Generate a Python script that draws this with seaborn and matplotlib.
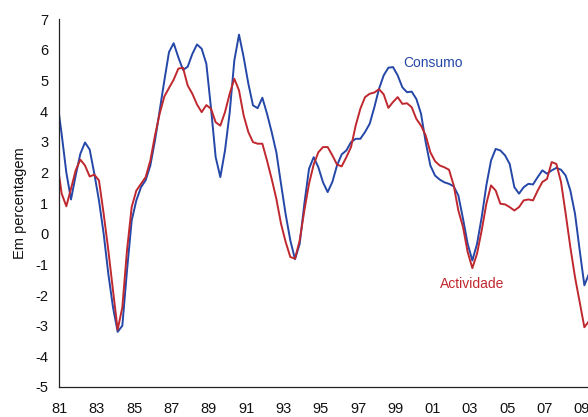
import numpy as np
import pandas as pd
import matplotlib
matplotlib.use("Agg")
import matplotlib.pyplot as plt
import seaborn as sns
from matplotlib.ticker import MultipleLocator, FixedLocator

# Quarterly observations plotted at mid-quarter, from 1980Q4 to 2009Q2
first_obs = 1980.875
consumo = [
    4.4,
    3.25, 2.0, 1.12, 1.9,
    2.61, 2.98, 2.75, 1.96,
    1.08, 0.0, -1.31, -2.4,
    -3.2, -3.0, -1.2, 0.43,
    1.09, 1.52, 1.75, 2.23,
    3.05, 4.02, 5.0, 5.93,
    6.22, 5.76, 5.35, 5.45,
    5.87, 6.18, 6.04, 5.55,
    4.1, 2.5, 1.85, 2.72,
    3.95, 5.66, 6.5, 5.76,
    4.9, 4.19, 4.1, 4.44,
    3.92, 3.32, 2.66, 1.63,
    0.63, -0.22, -0.83, -0.33,
    0.98, 2.12, 2.5, 2.17,
    1.68, 1.36, 1.69, 2.23,
    2.59, 2.72, 2.99, 3.1,
    3.1, 3.32, 3.59, 4.13,
    4.73, 5.17, 5.42, 5.44,
    5.17, 4.78, 4.62, 4.64,
    4.4, 3.92, 2.99, 2.23,
    1.9, 1.77, 1.68, 1.63,
    1.55, 1.25, 0.49, -0.33,
    -0.87, -0.33, 0.54, 1.58,
    2.39, 2.77, 2.72, 2.56,
    2.28, 1.52, 1.31, 1.52,
    1.63, 1.61, 1.85, 2.07,
    1.96, 2.07, 2.15, 2.09,
    1.9, 1.41, 0.65, -0.54,
    -1.68, -1.3,
]
actividade = [
    2.4,
    1.31, 0.9, 1.47, 2.07,
    2.42, 2.23, 1.87, 1.93,
    1.74, 0.65, -0.54, -1.85,
    -3.13, -2.4, -0.54, 0.87,
    1.41, 1.63, 1.85, 2.39,
    3.21, 3.92, 4.48, 4.76,
    5.03, 5.39, 5.42, 4.84,
    4.57, 4.22, 3.97, 4.2,
    4.08, 3.64, 3.53, 3.97,
    4.57, 5.06, 4.68, 3.86,
    3.32, 2.99, 2.94, 2.94,
    2.39, 1.79, 1.14, 0.33,
    -0.27, -0.76, -0.81, -0.22,
    0.76, 1.63, 2.26, 2.66,
    2.83, 2.83, 2.56, 2.26,
    2.2, 2.5, 2.83, 3.53,
    4.08, 4.46, 4.57, 4.61,
    4.72, 4.55, 4.11, 4.3,
    4.46, 4.24, 4.26, 4.13,
    3.75, 3.53, 3.21, 2.66,
    2.37, 2.23, 2.17, 2.09,
    1.58, 0.76, 0.22, -0.6,
    -1.12, -0.65, 0.11, 0.98,
    1.58, 1.41, 0.98, 0.96,
    0.87, 0.76, 0.87, 1.09,
    1.12, 1.09, 1.41, 1.69,
    1.79, 2.34, 2.28, 1.69,
    0.65, -0.44, -1.42, -2.23,
    -3.05, -2.85,
]
series_names = ["Consumo", "Actividade"]
series_colors = ["#2447a8", "#c0282f"]
x_tick_years = list(range(1981, 2010, 2))
x_tick_labels = [f"{y % 100:02d}" for y in x_tick_years]
y_ticks = list(range(-5, 8))
y_label = "Em percentagem"

n = len(consumo)
years = first_obs + 0.25 * np.arange(n)
df = pd.DataFrame({
    "ano": np.concatenate([years, years]),
    "valor": np.concatenate([consumo, actividade]),
    "serie": [series_names[0]] * n + [series_names[1]] * n,
})

sns.set_style("white")
plt.rcParams["font.family"] = ["Liberation Sans", "DejaVu Sans"]

fig = plt.figure(figsize=(5.88, 4.17), dpi=100)
ax = fig.add_axes([0.1009, 0.072, 0.8991, 0.8817])
sns.lineplot(data=df, x="ano", y="valor", hue="serie",
             palette=dict(zip(series_names, series_colors)),
             linewidth=1.4, legend=False, ax=ax,
             solid_joinstyle="round", solid_capstyle="round")

ax.set_xlim(1981, 2009.32)
ax.set_ylim(-5, 7)
ax.xaxis.set_major_locator(FixedLocator(x_tick_years))
ax.xaxis.set_minor_locator(MultipleLocator(1))
ax.set_xticklabels(x_tick_labels)
ax.set_yticks(y_ticks)
ax.set_yticklabels([str(v) for v in y_ticks])

for s in ["top", "right"]:
    ax.spines[s].set_visible(False)
for s in ["left", "bottom"]:
    ax.spines[s].set_color("#222222")
    ax.spines[s].set_linewidth(0.9)

ax.tick_params(axis="both", which="both", direction="out", color="#222222",
               width=0.9, length=4, labelsize=10.5, labelcolor="#111111")
ax.tick_params(axis="x", which="major", pad=7)
ax.tick_params(axis="y", which="major", pad=4)
ax.set_xlabel("")
ax.set_ylabel(y_label, fontsize=10.5, color="#111111", labelpad=6)

ax.text(1999.41, 5.59, series_names[0], color=series_colors[0], fontsize=10,
        ha="left", va="center")
ax.text(2001.39, -1.63, series_names[1], color=series_colors[1], fontsize=10,
        ha="left", va="center")

fig.savefig("out.png", dpi=100)
